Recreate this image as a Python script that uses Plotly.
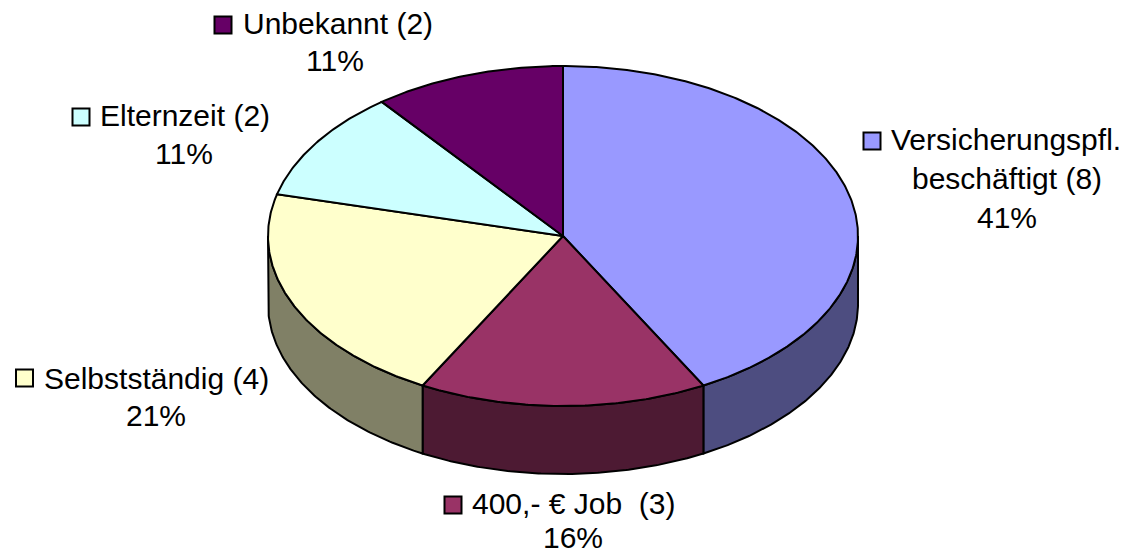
import numpy as np
import plotly.graph_objects as go

# Data
categories = ["Versicherungspfl.<br>beschäftigt (8)", "400,- € Job  (3)", "Selbstständig (4)", "Elternzeit (2)", "Unbekannt (2)"]
counts = [8, 3, 4, 2, 2]
percent_labels = ["41%", "16%", "21%", "11%", "11%"]

# Styles
top_colors = ["#9999FF", "#993366", "#FFFFCC", "#CCFFFF", "#660066"]
side_colors = ["#4D4D80", "#4D1A33", "#808066", "#668080", "#330033"]
FONT = "Liberation Sans, Arial, sans-serif"
FS = 30

# Geometry of the projected pie (pixel-based axes)
cx, cy, rx, ry, depth = 563, 236, 295, 170, 68


def ell(a, dy=0):
    r = np.radians(a)
    return cx + rx * np.sin(r), cy - ry * np.cos(r) + dy


def arc(a0, a1):
    return np.linspace(a0, a1, max(2, int(abs(a1 - a0) * 2) + 1))


edges = np.concatenate([[0], np.cumsum(counts)]) / sum(counts) * 360
fig = go.Figure()
line = dict(color="black", width=2)

# Side walls (visible front half only)
for i in range(len(counts)):
    a0, a1 = max(edges[i], 90), min(edges[i + 1], 270)
    if a1 <= a0:
        continue
    t = arc(a0, a1)
    xt, yt = ell(t)
    xb, yb = ell(t[::-1], depth)
    fig.add_trace(go.Scatter(x=np.r_[xt, xb, xt[0]], y=np.r_[yt, yb, yt[0]], mode="lines",
                             fill="toself", fillcolor=side_colors[i], line=line,
                             hoverinfo="skip", showlegend=False))

# Top faces
for i in range(len(counts)):
    xt, yt = ell(arc(edges[i], edges[i + 1]))
    fig.add_trace(go.Scatter(x=np.r_[cx, xt, cx], y=np.r_[cy, yt, cy], mode="lines",
                             fill="toself", fillcolor=top_colors[i], line=line,
                             hoverinfo="skip", showlegend=False))

# Label layout: key x/y, text x, text y, percent x, percent y, second line y
label_pos = [
    (872, 141, 889, 139, 1007, 217, 178),
    (453, 505, 470, 503, 573, 537, None),
    (24.5, 378, 42, 378, 156, 415, None),
    (81, 117, 98, 115, 184, 153, None),
    (223, 25, 241, 23, 335, 60, None),
]
fig.add_trace(go.Scatter(x=[p[0] for p in label_pos], y=[p[1] for p in label_pos], mode="markers",
                         marker=dict(symbol="square", size=17, color=top_colors,
                                     line=dict(color="black", width=2)),
                         hoverinfo="skip", showlegend=False))

ann = []
for c, pct, p in zip(categories, percent_labels, label_pos):
    kx, ky, tx, ty, px, py, y2 = p
    parts = c.split("<br>")
    ann.append(dict(x=tx, y=ty, text=parts[0], xanchor="left", yanchor="middle", showarrow=False))
    if len(parts) > 1:
        ann.append(dict(x=px, y=y2, text=parts[1], xanchor="center", yanchor="middle", showarrow=False))
    ann.append(dict(x=px, y=py, text=pct, xanchor="center", yanchor="middle", showarrow=False))

fig.update_layout(
    width=1125, height=555, margin=dict(l=0, r=0, t=0, b=0),
    paper_bgcolor="white", plot_bgcolor="white",
    font=dict(family=FONT, size=FS, color="black"),
    xaxis=dict(range=[0, 1125], visible=False, fixedrange=True),
    yaxis=dict(range=[555, 0], visible=False, fixedrange=True),
    annotations=ann, showlegend=False,
)
fig.write_html("out.html", config=dict(displayModeBar=False),
               post_script="document.body.style.margin='0';document.documentElement.style.overflow='hidden';")
